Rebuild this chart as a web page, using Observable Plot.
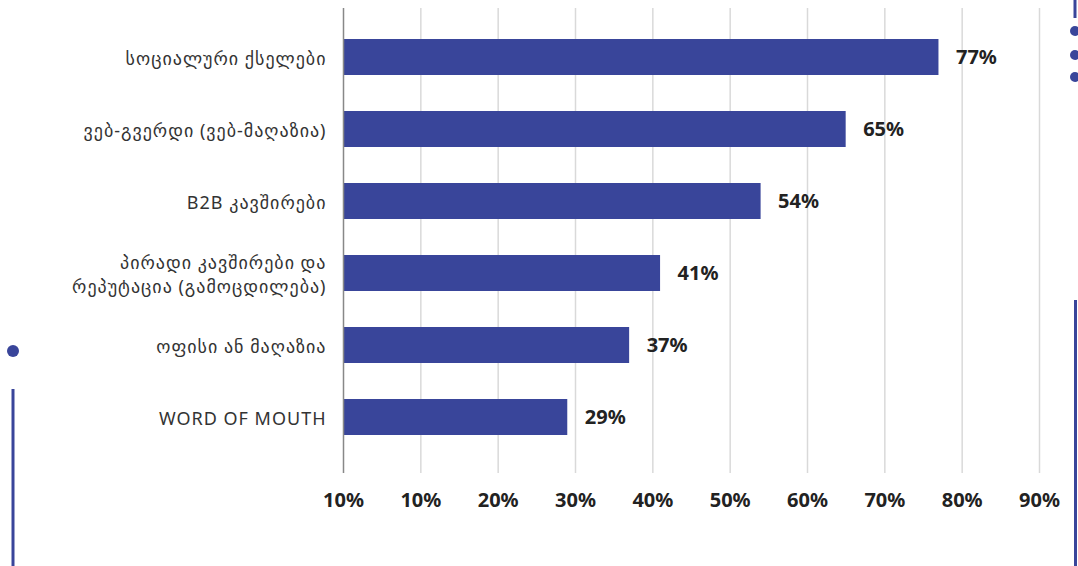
<!DOCTYPE html>
<html>
<head>
<meta charset="utf-8">
<script src="https://cdn.jsdelivr.net/npm/d3@7"></script>
<script src="https://cdn.jsdelivr.net/npm/@observablehq/plot@0.6"></script>
<style>
  html, body { margin: 0; padding: 0; background: #fff; }
  #wrap { position: relative; width: 1078px; height: 566px; overflow: hidden; }
  #deco { position: absolute; left: 0; top: 0; pointer-events: none; }
  .ylab text { letter-spacing: 1px; }
</style>
</head>
<body>
<div id="wrap">
  <div id="chart"></div>
  <svg id="deco" width="1078" height="566">
    <line x1="1075" y1="0" x2="1075" y2="18" stroke="#39459a" stroke-width="3"/>
    <circle cx="1075" cy="31" r="5" fill="#39459a"/>
    <circle cx="1075" cy="55" r="5" fill="#39459a"/>
    <circle cx="1075" cy="77" r="5" fill="#39459a"/>
    <line x1="1075.5" y1="300" x2="1075.5" y2="566" stroke="#39459a" stroke-width="3"/>
    <circle cx="13" cy="351" r="6" fill="#39459a"/>
    <line x1="13" y1="389" x2="13" y2="566" stroke="#39459a" stroke-width="3"/>
  </svg>
</div>
<script>
const categories = [
  "სოციალური ქსელები",
  "ვებ-გვერდი (ვებ-მაღაზია)",
  "B2B კავშირები",
  "პირადი კავშირები და\nრეპუტაცია (გამოცდილება)",
  "ოფისი ან მაღაზია",
  "WORD OF MOUTH"
];
const values = [77, 65, 54, 41, 37, 29];
const tickValues = [0, 10, 20, 30, 40, 50, 60, 70, 80, 90];
const tickLabels = ["10%", "10%", "20%", "30%", "40%", "50%", "60%", "70%", "80%", "90%"];

const data = categories.map((c, i) => ({category: c, value: values[i]}));
const barColor = "#39459a";

const chart = Plot.plot({
  width: 1078,
  height: 566,
  marginLeft: 343,
  marginRight: 39,
  marginTop: 8,
  marginBottom: 93,
  style: {fontFamily: "'Noto Sans', 'DejaVu Sans', sans-serif", background: "#fff", color: "#222"},
  x: {domain: [0, 90], axis: null, label: null},
  y: {domain: categories, paddingInner: 0.5, paddingOuter: 0.46, align: 0.45, axis: null, label: null},
  marks: [
    Plot.ruleX(tickValues.filter(d => d > 0), {stroke: "#d9d9d9", strokeWidth: 1.5}),
    Plot.barX(data, {x: "value", y: "category", fill: barColor}),
    Plot.ruleX([0], {stroke: "#888", strokeWidth: 1.5}),
    Plot.text(data, {
      x: "value", y: "category", text: d => d.value + "%",
      textAnchor: "start", dx: 17, fontSize: 20, fontWeight: "bold", fill: "#222"
    }),
    Plot.axisY({
      label: null, className: "ylab",
      tickSize: 0, tickPadding: 17, fontSize: 18, lineHeight: 1.35, fill: "#333"
    }),
    Plot.axisX({
      label: null,
      ticks: tickValues,
      tickFormat: d => tickLabels[tickValues.indexOf(d)],
      tickSize: 0, tickPadding: 19, fontSize: 20, fontWeight: "bold", fill: "#222"
    })
  ]
});
document.getElementById("chart").appendChild(chart);
</script>
</body>
</html>
